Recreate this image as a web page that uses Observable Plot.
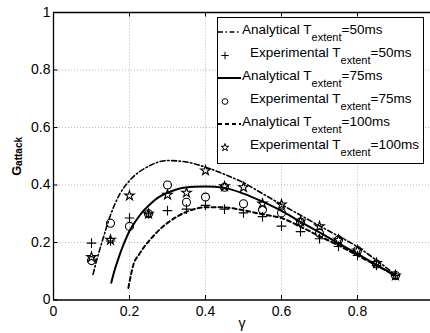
<!DOCTYPE html>
<html><head><meta charset="utf-8">
<script src="https://cdn.jsdelivr.net/npm/d3@7"></script>
<script src="https://cdn.jsdelivr.net/npm/@observablehq/plot@0.6"></script>
<style>html,body{margin:0;padding:0;overflow:hidden;background:#fff}</style>
</head><body><div id="chart"></div>
<script>
// ---- data ----
const xTicks = [0, 0.2, 0.4, 0.6, 0.8, 1];
const yTicks = [0, 0.2, 0.4, 0.6, 0.8, 1];
const gridTicks = [0.2, 0.4, 0.6, 0.8];

const gammaExp = [0.1,0.15,0.2,0.25,0.3,0.35,0.4,0.45,0.5,0.55,0.6,0.65,0.7,0.75,0.8,0.85,0.9];
const exp50  = [0.198,0.205,0.285,0.300,0.311,0.316,0.329,0.316,0.303,0.290,0.257,0.238,0.213,0.186,0.155,0.120,0.085];
const exp75  = [0.137,0.267,0.256,0.300,0.400,0.340,0.358,0.392,0.335,0.314,0.303,0.271,0.232,0.209,0.172,0.125,0.085];
const exp100 = [0.149,0.209,0.363,0.300,0.366,0.373,0.450,0.395,0.392,0.335,0.332,0.273,0.256,0.209,0.172,0.128,0.085];

const ana50X = [0.104,0.115,0.125,0.14,0.15,0.175,0.2,0.25,0.3,0.35,0.4,0.45,0.5,0.55,0.6,0.65,0.7,0.75,0.8,0.85,0.9];
const ana50Y = [0.089,0.145,0.19,0.255,0.295,0.37,0.415,0.465,0.485,0.48,0.462,0.437,0.408,0.37,0.332,0.295,0.258,0.222,0.185,0.138,0.088];
const ana75X = [0.152,0.16,0.172,0.185,0.2,0.215,0.233,0.25,0.277,0.3,0.33,0.37,0.4,0.45,0.5,0.55,0.6,0.65,0.7,0.75,0.8,0.85,0.9];
const ana75Y = [0.06,0.1,0.149,0.195,0.24,0.272,0.305,0.328,0.358,0.373,0.387,0.394,0.395,0.39,0.37,0.342,0.31,0.272,0.235,0.197,0.16,0.122,0.085];
const ana100X = [0.197,0.211,0.225,0.238,0.253,0.268,0.285,0.303,0.325,0.347,0.374,0.4,0.45,0.5,0.55,0.6,0.65,0.7,0.75,0.8,0.85,0.9];
const ana100Y = [0.042,0.126,0.158,0.184,0.208,0.23,0.252,0.271,0.29,0.305,0.317,0.323,0.322,0.312,0.298,0.285,0.255,0.222,0.19,0.155,0.12,0.085];

const legendPre = ["Analytical","Experimental","Analytical","Experimental","Analytical","Experimental"];
const legendVal = ["50ms","50ms","75ms","75ms","100ms","100ms"];
const yLabelMain = "G", yLabelSub = "attack", xLabel = "γ";

// ---- layout ----
const FONT = "'Liberation Sans', Arial, Helvetica, sans-serif";
const W = 430, H = 333;
const xRange = [53, 433], yRange = [299.5, 12];
const tickPx = 4.5;
const txLen = tickPx / (xRange[1] - xRange[0]);
const tyLen = tickPx / (yRange[0] - yRange[1]);

const pts = (xs, ys) => xs.map((x, i) => ({x, y: ys[i]}));
const a50 = pts(ana50X, ana50Y), a75 = pts(ana75X, ana75Y), a100 = pts(ana100X, ana100Y);
const e50 = pts(gammaExp, exp50), e75 = pts(gammaExp, exp75), e100 = pts(gammaExp, exp100);

const DASHDOT = "5,2.5,1.5,2.5";
const DASHED = "4,3";

const plot = Plot.plot({
  width: W, height: H,
  marginLeft: 53, marginTop: 12, marginBottom: 33.5, marginRight: 0,
  style: {fontFamily: FONT, fontSize: "14px", background: "white", overflow: "hidden"},
  x: {domain: [0, 1], range: xRange},
  y: {domain: [0, 1], range: yRange},
  marks: [
    Plot.ruleX(gridTicks, {x: d => d, y1: 0, y2: 1, stroke: "#a8a8a8", strokeWidth: 0.8, strokeDasharray: "1,2"}),
    Plot.ruleY(gridTicks, {y: d => d, x1: 0, x2: 1, stroke: "#a8a8a8", strokeWidth: 0.8, strokeDasharray: "1,2"}),
    Plot.line(a50, {x: "x", y: "y", stroke: "black", strokeWidth: 1.6, strokeDasharray: DASHDOT, curve: "monotone-x"}),
    Plot.line(a75, {x: "x", y: "y", stroke: "black", strokeWidth: 2, curve: "monotone-x"}),
    Plot.line(a100, {x: "x", y: "y", stroke: "black", strokeWidth: 2, strokeDasharray: DASHED, curve: "monotone-x"}),
    Plot.dot(e50, {x: "x", y: "y", symbol: "plus", r: 3.2, stroke: "black", strokeWidth: 1.1}),
    Plot.dot(e75, {x: "x", y: "y", symbol: "circle", r: 4, stroke: "black", fill: "none", strokeWidth: 1.1}),
    Plot.dot(e100, {x: "x", y: "y", symbol: "star", r: 3, stroke: "black", fill: "none", strokeWidth: 1.1}),
    // box
    Plot.ruleY([0, 1], {y: d => d, x1: 0, x2: 1, stroke: "black", strokeWidth: 1.3}),
    Plot.ruleX([0, 1], {x: d => d, y1: 0, y2: 1, stroke: "black", strokeWidth: 1.3}),
    // inward ticks
    Plot.ruleX(xTicks, {x: d => d, y1: 0, y2: tyLen, stroke: "black", strokeWidth: 1}),
    Plot.ruleX(xTicks, {x: d => d, y1: 1, y2: 1 - tyLen, stroke: "black", strokeWidth: 1}),
    Plot.ruleY(yTicks, {y: d => d, x1: 0, x2: txLen, stroke: "black", strokeWidth: 1}),
    Plot.axisX({ticks: xTicks, tickSize: 0, tickPadding: 6, tickFormat: d => String(d), label: null, fontSize: 14}),
    Plot.axisY({ticks: yTicks, tickSize: 0, tickPadding: 3, tickFormat: d => String(d), label: null, fontSize: 14}),
    // axis labels
    Plot.text([xLabel], {frameAnchor: "bottom", dy: 27.5, lineAnchor: "bottom", fontSize: 14, text: d => d}),
    Plot.text([yLabelMain], {frameAnchor: "left", dx: -33, dy: 14.5, rotate: -90, textAnchor: "middle", lineAnchor: "bottom", fontSize: 13, fontWeight: "bold", text: d => d}),
    Plot.text([yLabelSub], {frameAnchor: "left", dx: -31.5, dy: -4.8, rotate: -90, textAnchor: "middle", lineAnchor: "bottom", fontSize: 10, fontWeight: "bold", text: d => d})
  ]
});
document.getElementById("chart").appendChild(plot);

const svg = d3.select(plot);
// legend
const lg = svg.append("g").attr("font-family", FONT).attr("font-size", 13.5).attr("text-anchor", "start");
lg.append("rect").attr("x", 217.5).attr("y", 17.5).attr("width", 206).attr("height", 146)
  .attr("fill", "white").attr("stroke", "black").attr("stroke-width", 1);
const legendStyle = [
  {kind: "line", dash: DASHDOT, w: 1.6},
  {kind: "sym", sym: d3.symbolPlus, size: 20},
  {kind: "line", dash: null, w: 2},
  {kind: "sym", sym: d3.symbolCircle, size: 26},
  {kind: "line", dash: DASHED, w: 2},
  {kind: "sym", sym: d3.symbolStar, size: 18}
];
legendPre.forEach((pre, i) => {
  const base = 33.5 + i * 23;
  const st = legendStyle[i];
  if (st.kind === "line") {
    const l = lg.append("line").attr("x1", 218).attr("x2", 241).attr("y1", base - 1.5).attr("y2", base - 1.5)
      .attr("stroke", "black").attr("stroke-width", st.w);
    if (st.dash) l.attr("stroke-dasharray", st.dash);
  } else {
    lg.append("path").attr("transform", `translate(225,${base - 1})`)
      .attr("d", d3.symbol(st.sym, st.size)()).attr("fill", "none").attr("stroke", "black").attr("stroke-width", 1);
  }
  const t = lg.append("text").attr("x", st.kind === "line" ? 242 : 250).attr("y", base).attr("text-anchor", "start");
  t.append("tspan").text(pre + " T");
  t.append("tspan").attr("font-size", 11).attr("dy", 7.5).text("extent");
  t.append("tspan").attr("dy", -7.5).text("=" + legendVal[i]);
});
</script>
</body></html>
